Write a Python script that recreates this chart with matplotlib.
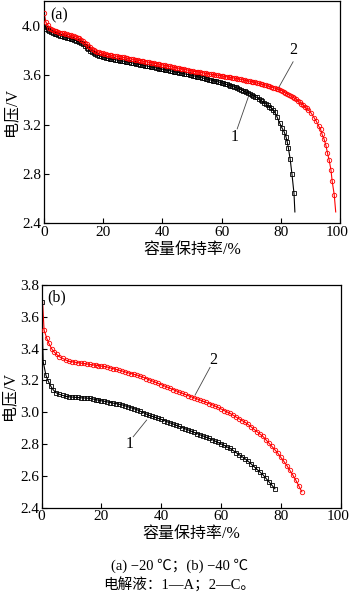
import numpy as np
import matplotlib.pyplot as plt
import matplotlib.transforms as mtransforms

plt.rcParams['font.family'] = ['Liberation Serif', 'Noto Sans CJK SC']

# ---- (a) -20 C ----
# curve 1 (electrolyte A): markers every 0.6 % up to 78 %, then read one by one
a1_step = 0.6
a1_v = [3.995, 3.980, 3.970, 3.960, 3.951, 3.945, 3.939, 3.933, 3.927, 3.922,
        3.918, 3.914, 3.910, 3.905, 3.901, 3.897, 3.893, 3.888, 3.882, 3.876,
        3.870, 3.861, 3.851, 3.839, 3.826, 3.812, 3.798, 3.788, 3.778, 3.771,
        3.765, 3.759, 3.754, 3.750, 3.746, 3.742, 3.738, 3.734, 3.732, 3.729,
        3.727, 3.725, 3.722, 3.720, 3.717, 3.715, 3.712, 3.709, 3.706, 3.703,
        3.700, 3.697, 3.694, 3.691, 3.688, 3.685, 3.682, 3.679, 3.676, 3.673,
        3.670, 3.667, 3.664, 3.661, 3.658, 3.655, 3.652, 3.649, 3.646, 3.643,
        3.640, 3.637, 3.634, 3.631, 3.628, 3.625, 3.622, 3.619, 3.616, 3.613,
        3.610, 3.607, 3.604, 3.601, 3.598, 3.594, 3.590, 3.587, 3.583, 3.580,
        3.576, 3.572, 3.569, 3.565, 3.562, 3.558, 3.554, 3.551, 3.547, 3.544,
        3.540, 3.535, 3.530, 3.526, 3.521, 3.516, 3.511, 3.506, 3.502, 3.496,
        3.489, 3.482, 3.476, 3.469, 3.462, 3.456, 3.449, 3.442, 3.435, 3.427,
        3.420, 3.409, 3.399, 3.388, 3.378, 3.367, 3.357, 3.346, 3.334, 3.318,
        3.300]
a1_tail_x = [78.8, 79.7, 80.5, 81.2, 81.8, 82.2, 82.6, 83.2, 83.8, 84.5]
a1_tail_v = [3.26, 3.21, 3.17, 3.14, 3.10, 3.06, 3.01, 2.92, 2.80, 2.64]
a1_end = (84.8, 2.49)

# curve 2 (electrolyte C)
a2_step = 0.6
a2_v = [4.110, 4.035, 4.012, 3.988, 3.976, 3.970, 3.964, 3.958, 3.952, 3.948,
        3.944, 3.940, 3.937, 3.933, 3.930, 3.926, 3.922, 3.918, 3.912, 3.906,
        3.900, 3.888, 3.876, 3.864, 3.852, 3.840, 3.828, 3.816, 3.804, 3.797,
        3.792, 3.788, 3.784, 3.780, 3.776, 3.772, 3.768, 3.764, 3.762, 3.759,
        3.757, 3.755, 3.752, 3.750, 3.747, 3.745, 3.742, 3.739, 3.736, 3.733,
        3.730, 3.727, 3.725, 3.722, 3.720, 3.717, 3.714, 3.712, 3.709, 3.706,
        3.704, 3.701, 3.698, 3.696, 3.693, 3.690, 3.687, 3.684, 3.681, 3.678,
        3.675, 3.672, 3.669, 3.666, 3.663, 3.660, 3.657, 3.654, 3.651, 3.648,
        3.645, 3.642, 3.639, 3.636, 3.633, 3.631, 3.629, 3.626, 3.624, 3.621,
        3.619, 3.617, 3.614, 3.612, 3.609, 3.607, 3.605, 3.602, 3.600, 3.597,
        3.595, 3.593, 3.590, 3.588, 3.585, 3.583, 3.581, 3.578, 3.576, 3.573,
        3.570, 3.567, 3.564, 3.561, 3.558, 3.555, 3.552, 3.549, 3.545, 3.542,
        3.538, 3.534, 3.531, 3.527, 3.524, 3.520, 3.515, 3.510, 3.506, 3.501,
        3.496, 3.491, 3.486, 3.482, 3.475, 3.466, 3.458, 3.449, 3.441, 3.432,
        3.424, 3.416, 3.406, 3.394, 3.382, 3.370, 3.357, 3.344, 3.331, 3.318]
a2_tail_x = [90.4, 91.3, 92.1, 92.8, 93.5, 94.0, 94.7, 95.3, 95.8, 96.4,
             97.0, 97.4, 98.1]
a2_tail_v = [3.29, 3.255, 3.225, 3.19, 3.16, 3.12, 3.08, 3.03, 2.97, 2.91,
             2.83, 2.74, 2.63]
a2_end = (98.6, 2.49)

# ---- (b) -40 C ----
b1_head_x = [0, 0.5, 1.4, 2.2, 3.0, 3.9, 4.8, 5.9, 7.0, 8.1, 9.2]
b1_head_v = [3.695, 3.318, 3.234, 3.196, 3.165, 3.14, 3.123, 3.113, 3.106,
             3.10, 3.097]
b1_v = [3.096, 3.094, 3.093, 3.091, 3.090, 3.089, 3.087, 3.084, 3.080, 3.076,
        3.072, 3.069, 3.065, 3.061, 3.057, 3.054, 3.050, 3.046, 3.040, 3.034,
        3.028, 3.022, 3.015, 3.006, 2.998, 2.989, 2.980, 2.974, 2.968, 2.961,
        2.955, 2.948, 2.940, 2.933, 2.926, 2.918, 2.911, 2.904, 2.896, 2.889,
        2.881, 2.873, 2.866, 2.858, 2.851, 2.843, 2.836, 2.828, 2.819, 2.810,
        2.801, 2.792, 2.782, 2.773, 2.760, 2.747, 2.734, 2.721, 2.708, 2.693,
        2.676, 2.659, 2.641, 2.624, 2.607, 2.585, 2.563, 2.541, 2.519]  # x = 10..78

b2_start = (0, 3.80)
b2_head_x = [0.8, 1.7, 2.4, 3.3, 4.1, 5.0, 5.9, 7.0, 8.1, 9.2]
b2_head_v = [3.517, 3.465, 3.433, 3.40, 3.38, 3.364, 3.349, 3.339, 3.328, 3.32]
b2_v = [3.318, 3.315, 3.312, 3.309, 3.307, 3.304, 3.301, 3.298, 3.296, 3.293,
        3.290, 3.288, 3.284, 3.279, 3.274, 3.269, 3.264, 3.259, 3.253, 3.248,
        3.243, 3.238, 3.233, 3.227, 3.220, 3.212, 3.204, 3.197, 3.189, 3.181,
        3.174, 3.166, 3.158, 3.150, 3.143, 3.135, 3.127, 3.120, 3.112, 3.105,
        3.098, 3.091, 3.084, 3.077, 3.069, 3.062, 3.055, 3.048, 3.039, 3.030,
        3.021, 3.011, 3.002, 2.993, 2.982, 2.970, 2.959, 2.948, 2.937, 2.924,
        2.909, 2.893, 2.878, 2.863, 2.848, 2.827, 2.806, 2.785, 2.764, 2.742,
        2.716, 2.691, 2.665, 2.635, 2.605, 2.573, 2.537, 2.500]  # x = 10..87

x_ticks = [0, 20, 40, 60, 80, 100]
a_yticks = [2.4, 2.8, 3.2, 3.6, 4.0]
b_yticks = [2.4, 2.6, 2.8, 3.0, 3.2, 3.4, 3.6, 3.8]


def draw(ax, mx, mv, lx, lv, color, marker):
    ax.plot(lx, lv, color=color, lw=0.8, zorder=2)
    ax.plot(mx, mv, ls='none', marker=marker, ms=3.2, mfc='none', mec=color,
            mew=0.6, zorder=3)


def style(ax, yticks, ylim):
    ax.set_xlim(0, 100)
    ax.set_ylim(*ylim)
    ax.set_xticks(x_ticks)
    ax.set_yticks(yticks)
    ax.set_yticklabels(['%.1f' % t for t in yticks])
    ax.tick_params(direction='in', length=3.5, width=0.8, labelsize=11, pad=2)
    for s in ax.spines.values():
        s.set_linewidth(0.9)
    ax.set_xlabel('容量保持率/%', fontsize=11.5, labelpad=2)
    ax.set_ylabel('电压/V', fontsize=11.5, labelpad=2)
    # keep the "100" label inside the picture
    lab = ax.get_xticklabels()[-1]
    lab.set_transform(lab.get_transform() +
                      mtransforms.ScaledTranslation(-3 / 100, 0, ax.figure.dpi_scale_trans))


fig = plt.figure(figsize=(3.5, 5.99), dpi=100)

# panel (a)
ax1 = fig.add_axes([0.1257, 0.6277, 0.8453, 0.3698])
x1 = np.arange(len(a1_v)) * a1_step
mx = np.concatenate([x1, a1_tail_x]); mv = np.concatenate([a1_v, a1_tail_v])
draw(ax1, mx, mv, np.append(mx, a1_end[0]), np.append(mv, a1_end[1]), 'black', 's')
x2 = np.arange(len(a2_v)) * a2_step
mx = np.concatenate([x2, a2_tail_x]); mv = np.concatenate([a2_v, a2_tail_v])
draw(ax1, mx, mv, np.append(mx, a2_end[0]), np.append(mv, a2_end[1]), 'red', 'o')
style(ax1, a_yticks, (2.4, 4.2))
ax1.text(2.2, 4.09, '(a)', fontsize=11.5, va='center')
ax1.plot([84.2, 79.2], [3.71, 3.495], color='#444444', lw=0.6)
ax1.text(84.4, 3.74, '2', fontsize=11.5, ha='center', va='bottom')
ax1.plot([65.3, 69.0], [3.165, 3.42], color='#444444', lw=0.6)
ax1.text(64.5, 3.10, '1', fontsize=11.5, ha='center', va='center')

# panel (b)
ax2 = fig.add_axes([0.1191, 0.1524, 0.8543, 0.3718])
xb1 = np.arange(10, 10 + len(b1_v))
mx = np.concatenate([b1_head_x, xb1]); mv = np.concatenate([b1_head_v, b1_v])
draw(ax2, mx, mv, mx, mv, 'black', 's')
xb2 = np.arange(10, 10 + len(b2_v))
mx = np.concatenate([b2_head_x, xb2]); mv = np.concatenate([b2_head_v, b2_v])
draw(ax2, mx, mv, np.insert(mx, 0, b2_start[0]), np.insert(mv, 0, b2_start[1]),
     'red', 'o')
style(ax2, b_yticks, (2.4, 3.8))
ax2.text(1.7, 3.72, '(b)', fontsize=11.5, va='center')
ax2.plot([56.3, 51.3], [3.282, 3.108], color='#444444', lw=0.6)
ax2.text(57.4, 3.33, '2', fontsize=11.5, ha='center', va='center')
ax2.plot([30.6, 35.1], [2.846, 2.951], color='#444444', lw=0.6)
ax2.text(29.5, 2.80, '1', fontsize=11.5, ha='center', va='center')

fig.text(0.513, 0.055, '(a) −20 ℃；(b) −40 ℃', fontsize=10.5, ha='center', va='center')
fig.text(0.513, 0.023, '电解液：1—A；2—C。', fontsize=10.5, ha='center', va='center')

fig.savefig('out.png', dpi=100)
